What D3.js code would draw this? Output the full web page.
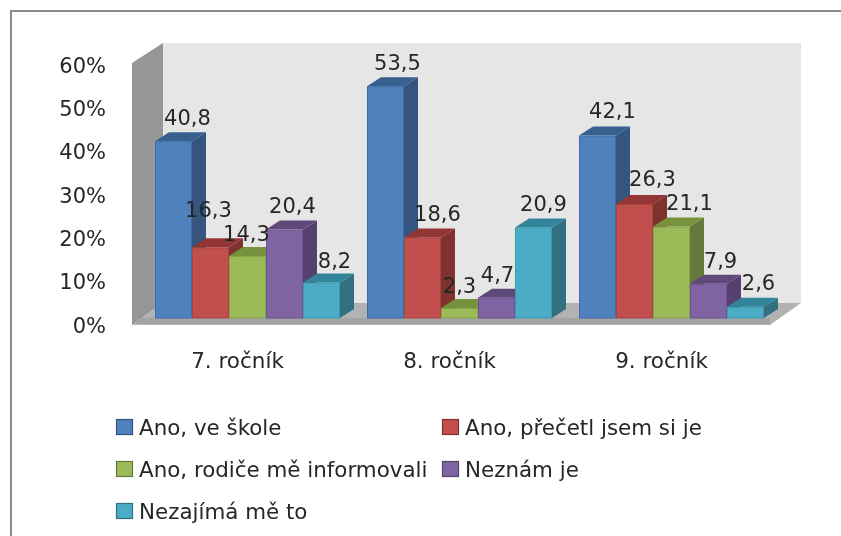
<!DOCTYPE html>
<html><head><meta charset="utf-8">
<script src="https://cdnjs.cloudflare.com/ajax/libs/d3/7.8.5/d3.min.js"></script>
<style>html,body{margin:0;padding:0;background:#fff}svg{display:block}
text{font-family:"DejaVu Sans",sans-serif;fill:#262626}</style></head><body>
<svg id="c" width="841" height="536"></svg>
<script>
const categories=["7. ročník","8. ročník","9. ročník"];
const seriesNames=["Ano, ve škole","Ano, přečetl jsem si je","Ano, rodiče mě informovali","Neznám je","Nezajímá mě to"];
const anoVeSkole=[40.8,53.5,42.1];
const anoPrecetl=[16.3,18.6,26.3];
const anoRodice=[14.3,2.3,21.1];
const neznamJe=[20.4,4.7,7.9];
const nezajima=[8.2,20.9,2.6];
const seriesValues=[anoVeSkole,anoPrecetl,anoRodice,neznamJe,nezajima];
const yTicks=[0,10,20,30,40,50,60];

const front=["#4f81bd","#c0504d","#9bbb59","#8064a2","#4bacc6"];
const edge=["#3e6da6","#a94441","#86a54a","#6d5390","#3c98b1"];
const top3=["#38608f","#943634","#76923c","#5f497a","#31849b"];
const side=["#34547f","#7f302e","#66783a","#553f70","#31707f"];
// hand-placed label nudges as in the source chart (per series, per category)
const labelDx=[[14,12,15],[-2,15,18],[-1,0,18],[8,1,12],[13,10,13]];
const labelDy=[[-24,-24,-25],[-38,-24,-26],[-23,-23,-24],[-24,-23,-23],[-22,-24,-24]];

const svg=d3.select("#c");
const defs=svg.append("defs");
defs.append("filter").attr("id","soft").append("feGaussianBlur").attr("stdDeviation",0.45);
const root=svg.append("g").attr("filter","url(#soft)");

// frame (cropped on the right and bottom)
root.append("path").attr("d","M11,536V11H841").attr("fill","none").attr("stroke","#8c8c8c").attr("stroke-width",2);

const y=d3.scaleLinear().domain([0,60]).range([318,58]);
const x0=d3.scaleBand().domain(categories).range([141.5,777.5]).paddingInner(27/212).paddingOuter(13.5/212);
const x1=d3.scaleBand().domain(d3.range(seriesNames.length)).range([0,x0.bandwidth()]);
const dX=14,dY=9;
const wallDX=31,wallDY=22,floorDrop=7;
const poly=(pts)=>"M"+pts.map(p=>p.join(",")).join("L")+"Z";

// walls and floor
const yBase=y(0)+floorDrop, yTop=y(60)+4;
const L=132,R=770;
root.append("path").attr("fill","#e6e6e6").attr("d",poly([[L+wallDX,yTop-wallDY+3],[R+wallDX,yTop-wallDY+3],[R+wallDX,yBase-wallDY],[L+wallDX,yBase-wallDY]]));
root.append("path").attr("fill","#969696").attr("d",poly([[L,yTop+1],[L+wallDX,yTop-wallDY+3],[L+wallDX,yBase-wallDY],[L,yBase]]));
root.append("path").attr("fill","#b2b2b2").attr("d",poly([[L,yBase],[L+wallDX,yBase-wallDY],[R+wallDX,yBase-wallDY],[R,yBase]]));
root.append("rect").attr("x",L+5).attr("y",y(0)).attr("width",R-L-5).attr("height",floorDrop-1).attr("fill","#a3a3a3");

// bars
const cells=[];
categories.forEach((c,ci)=>seriesNames.forEach((s,si)=>cells.push({c,ci,si,v:seriesValues[si][ci]})));
const bars=root.append("g").selectAll("g").data(cells).join("g");
const bx=d=>x0(d.c)+x1(d.si), bw=x1.bandwidth();
bars.append("path").attr("fill",d=>side[d.si]).attr("d",d=>poly([[bx(d)+bw,y(d.v)],[bx(d)+bw+dX,y(d.v)-dY],[bx(d)+bw+dX,y(0)-dY],[bx(d)+bw,y(0)]]));
bars.append("path").attr("fill",d=>top3[d.si]).attr("d",d=>poly([[bx(d),y(d.v)],[bx(d)+dX,y(d.v)-dY],[bx(d)+bw+dX,y(d.v)-dY],[bx(d)+bw,y(d.v)]]));
bars.append("rect").attr("x",d=>bx(d)+0.5).attr("y",d=>y(d.v)+0.5).attr("width",bw-1).attr("height",d=>y(0)-y(d.v)-0.5)
  .attr("fill",d=>front[d.si]).attr("stroke",d=>edge[d.si]);

// value labels
root.append("g").selectAll("text").data(cells).join("text")
  .attr("x",d=>bx(d)+bw/2+labelDx[d.si][d.ci])
  .attr("y",d=>y(d.v)+labelDy[d.si][d.ci])
  .attr("dy","0.36em").attr("text-anchor","middle").attr("font-size",21)
  .text(d=>String(d.v).replace(".",","));

// axes
const ya=root.append("g").attr("transform","translate(106,7.5)")
  .call(d3.axisLeft(y).tickValues(yTicks).tickSize(0).tickPadding(0).tickFormat(d=>d+"%"));
ya.select(".domain").remove();
ya.selectAll("text").attr("font-size",21).attr("fill","#262626").style("font-family",'"DejaVu Sans",sans-serif');
const xa=root.append("g").attr("transform","translate(-10,353)")
  .call(d3.axisBottom(x0).tickSize(0).tickPadding(0));
xa.select(".domain").remove();
xa.selectAll("text").attr("font-size",21.5).attr("fill","#262626").style("font-family",'"DejaVu Sans",sans-serif');

// legend
const colX=d3.scaleOrdinal().domain([0,1]).range([116,442]);
const rowY=d3.scalePoint().domain([0,1,2]).range([427,511]);
const lg=root.append("g").selectAll("g").data(seriesNames).join("g")
  .attr("transform",(d,i)=>`translate(${colX(i%2)},${rowY(Math.floor(i/2))})`);
lg.append("rect").attr("x",0.5).attr("y",-7.5).attr("width",16).attr("height",15)
  .attr("fill",(d,i)=>front[i]).attr("stroke",(d,i)=>side[i]).attr("stroke-width",1.2);
lg.append("text").attr("x",23).attr("dy","0.36em").attr("font-size",21.4).text(d=>d);
</script></body></html>
